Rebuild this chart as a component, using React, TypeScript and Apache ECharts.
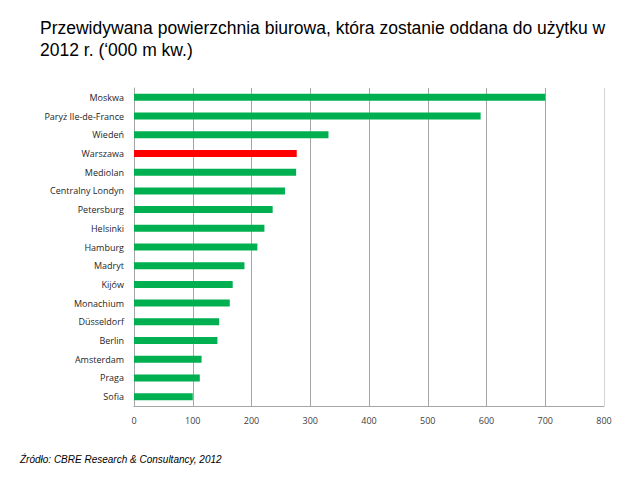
import React, { useEffect, useRef } from "react";
import * as echarts from "echarts";

const cities = [
  "Moskwa",
  "Paryż Ile-de-France",
  "Wiedeń",
  "Warszawa",
  "Mediolan",
  "Centralny Londyn",
  "Petersburg",
  "Helsinki",
  "Hamburg",
  "Madryt",
  "Kijów",
  "Monachium",
  "Düsseldorf",
  "Berlin",
  "Amsterdam",
  "Praga",
  "Sofia",
];
const values = [700, 590, 331, 277, 276, 257, 236, 222, 210, 188, 168, 163, 145, 142, 115, 112, 100];
const highlightCity = "Warszawa";
const titleText = "Przewidywana powierzchnia biurowa, która zostanie oddana do użytku w\n2012 r. (‘000 m kw.)";
const sourceText = "Źródło: CBRE Research & Consultancy, 2012";

export default function App() {
  const ref = useRef<HTMLDivElement>(null);
  useEffect(() => {
    if (!ref.current) return;
    const chart = echarts.init(ref.current, undefined, { renderer: "svg" });
    chart.setOption({
      animation: false,
      backgroundColor: "#ffffff",
      title: {
        text: titleText,
        left: 40,
        top: 17,
        padding: 0,
        textStyle: {
          fontFamily: "Liberation Sans, Arial, sans-serif",
          fontSize: 17.5,
          fontWeight: "normal",
          color: "#000000",
          lineHeight: 22,
        },
      },
      graphic: [
        {
          type: "text",
          left: 20,
          top: 454,
          style: {
            text: sourceText,
            fontFamily: "Liberation Sans, Arial, sans-serif",
            fontStyle: "italic",
            fontSize: 10,
            fill: "#000000",
          },
        },
      ],
      grid: { left: 134, right: 36, top: 88, bottom: 87, containLabel: false },
      xAxis: {
        type: "value",
        min: 0,
        max: 800,
        interval: 100,
        axisLine: { show: true, lineStyle: { color: "#a6a6a6" } },
        axisTick: { show: false },
        axisLabel: {
          color: "#404040",
          fontFamily: "Open Sans, sans-serif",
          fontSize: 9,
          margin: 10,
        },
        splitLine: {
          show: true,
          lineStyle: {
            color: ["#a6a6a6", "#a6a6a6", "#a6a6a6", "#a6a6a6", "#a6a6a6", "#a6a6a6", "#a6a6a6", "#a6a6a6", "#d4d4d4"],
            width: 1,
          },
        },
      },
      yAxis: {
        type: "category",
        data: cities,
        inverse: true,
        axisLine: { show: true, lineStyle: { color: "#a6a6a6" } },
        axisTick: { show: false },
        axisLabel: {
          color: "#262626",
          fontFamily: "Open Sans, sans-serif",
          fontSize: 9,
          margin: 10,
        },
      },
      series: [
        {
          type: "bar",
          data: values.map((v, i) => ({
            value: v,
            itemStyle: { color: cities[i] === highlightCity ? "#ff0000" : "#00b050" },
          })),
          barWidth: 7,
        },
      ],
    });
    return () => chart.dispose();
  }, []);
  return (
    <div
      ref={ref}
      style={{ position: "absolute", left: 0, top: 0, width: 640, height: 493 }}
    />
  );
}
